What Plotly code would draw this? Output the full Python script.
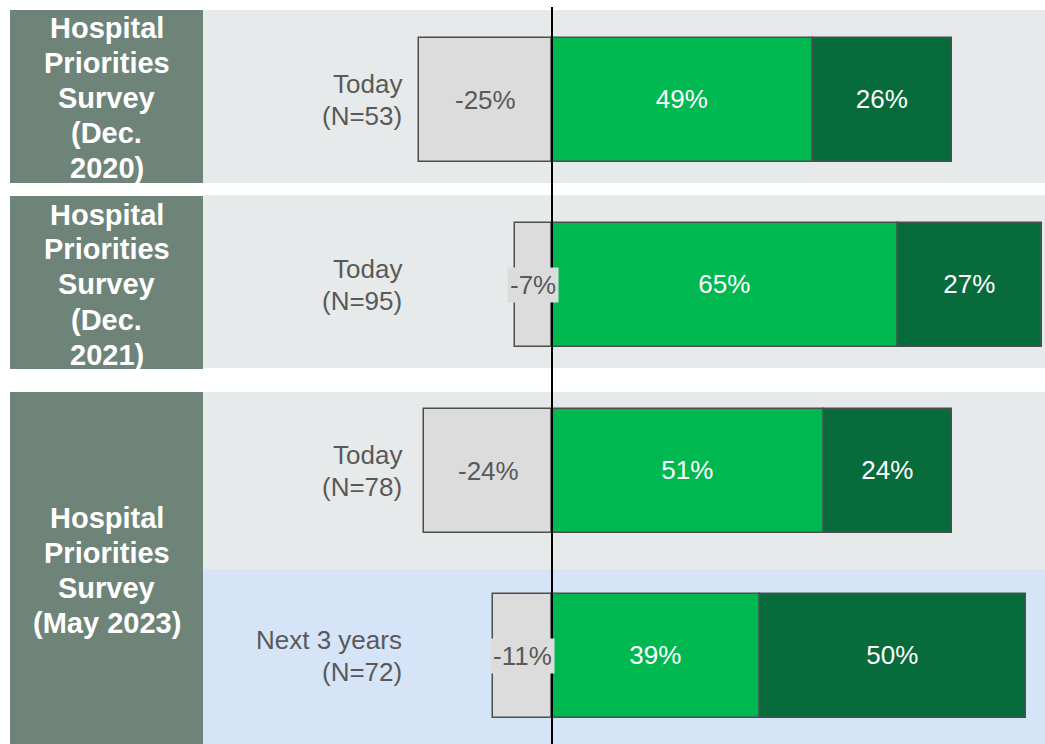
import plotly.graph_objects as go

# ---- data ----
rows = ["Today (N=53)", "Today (N=95)", "Today (N=78)", "Next 3 years (N=72)"]
periods = ["Today", "Today", "Today", "Next 3 years"]
n_sizes = [53, 95, 78, 72]
negative = [-25, -7, -24, -11]
positive = [49, 65, 51, 39]
strong_positive = [26, 27, 24, 50]
group_lines = [
    ["Hospital", "Priorities", "Survey", "(Dec.", "2020)"],
    ["Hospital", "Priorities", "Survey", "(Dec.", "2021)"],
    ["Hospital", "Priorities", "Survey", "(May 2023)"],
]

# ---- styling ----
W, H = 1045, 744
FONT = "Liberation Sans, Arial, Helvetica, sans-serif"
SIDEBAR = "#6F8479"
PANEL_GRAY = "#E7EAEA"
PANEL_BLUE = "#D6E4F8"
NEG_C = "#DCDCDC"
POS_C = "#00B850"
STRONG_C = "#086B3C"
EDGE = "#4D4D4D"
TXT = "#595959"

zero_px = 552
px_per_pct = 5.33
x_range = [-zero_px / px_per_pct, (W - zero_px) / px_per_pct]
row_px = 185.33
top = -100 / row_px
y_range = [top + H / row_px, top]


def py(p):
    return 1 - p / H


def pxx(p):
    return p / W


fig = go.Figure()
fig.add_trace(go.Bar(
    y=rows, x=negative, orientation="h", marker=dict(color=NEG_C, line=dict(color=EDGE, width=1.5)),
    width=124 / row_px, showlegend=False, hoverinfo="skip"))
fig.add_trace(go.Bar(
    y=rows, x=positive, orientation="h", marker=dict(color=POS_C, line=dict(color=EDGE, width=1.5)),
    width=124 / row_px, text=[f"{v}%" for v in positive], textposition="inside",
    insidetextanchor="middle", textfont=dict(family=FONT, size=26, color="white"),
    showlegend=False, hoverinfo="skip"))
fig.add_trace(go.Bar(
    y=rows, x=strong_positive, orientation="h", marker=dict(color=STRONG_C, line=dict(color=EDGE, width=1.5)),
    width=124 / row_px, text=[f"{v}%" for v in strong_positive], textposition="inside",
    insidetextanchor="middle", textfont=dict(family=FONT, size=26, color="white"),
    showlegend=False, hoverinfo="skip"))

shapes = []
# sidebar boxes
for y0, y1 in [(10, 183), (196, 369), (392, 744)]:
    shapes.append(dict(type="rect", xref="paper", yref="paper", x0=pxx(10), x1=pxx(203),
                       y0=py(y1), y1=py(y0), fillcolor=SIDEBAR, line=dict(width=0), layer="below"))
# panels
for (y0, y1), col in [((10, 183), PANEL_GRAY), ((195, 368), PANEL_GRAY),
                      ((392, 569), PANEL_GRAY), ((569, 744), PANEL_BLUE)]:
    shapes.append(dict(type="rect", xref="paper", yref="paper", x0=pxx(203), x1=1,
                       y0=py(y1), y1=py(y0), fillcolor=col, line=dict(width=0), layer="below"))
# zero line
shapes.append(dict(type="line", xref="x", yref="paper", x0=0, x1=0, y0=0, y1=py(7),
                   line=dict(color="black", width=2), layer="above"))

annotations = []
# sidebar texts
for lines, center in zip(group_lines, [98, 284.5, 570.5]):
    nl = len(lines)
    for i, t in enumerate(lines):
        yc = center + (i - (nl - 1) / 2) * 35
        annotations.append(dict(text=f"<b>{t}</b>", xref="paper", yref="paper", x=pxx(106.5), y=py(yc),
                                xanchor="center", yanchor="middle", showarrow=False,
                                font=dict(family=FONT, size=29, color="white")))
# row labels
for r, p, n in zip(rows, periods, n_sizes):
    annotations.append(dict(text=p, xref="paper", yref="y", x=pxx(404), y=r, yshift=16,
                            xanchor="right", yanchor="middle", showarrow=False,
                            font=dict(family=FONT, size=26, color=TXT)))
    annotations.append(dict(text=f"(N={n})", xref="paper", yref="y", x=pxx(404), y=r, yshift=-16,
                            xanchor="right", yanchor="middle", showarrow=False,
                            font=dict(family=FONT, size=26, color=TXT)))
# negative labels
for r, v in zip(rows, negative):
    annotations.append(dict(text=f"{v}%", xref="x", yref="y", x=v / 2, y=r,
                            xanchor="center", yanchor="middle", showarrow=False,
                            bgcolor=NEG_C, borderpad=2,
                            font=dict(family=FONT, size=26, color=TXT)))

fig.update_layout(
    width=W, height=H, margin=dict(l=0, r=0, t=0, b=0),
    paper_bgcolor="white", plot_bgcolor="rgba(0,0,0,0)",
    barmode="relative", bargap=0,
    xaxis=dict(range=x_range, visible=False, fixedrange=True),
    yaxis=dict(type="category", categoryorder="array", categoryarray=rows,
               range=y_range, visible=False, fixedrange=True),
    shapes=shapes, annotations=annotations,
    font=dict(family=FONT),
)

fig.write_html("out.html", config={"displayModeBar": False},
               post_script="document.body.style.margin='0';document.body.style.overflow='hidden';")
